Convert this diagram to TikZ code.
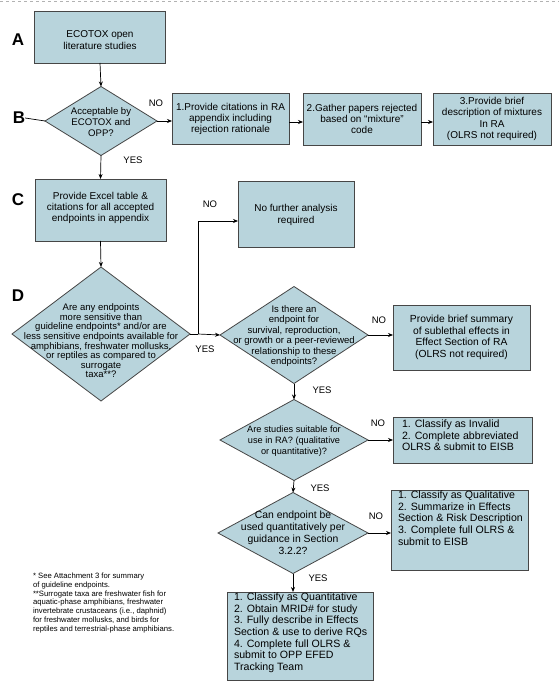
\documentclass[tikz,border=0pt]{standalone}
\usepackage{fontspec}
\setmainfont{Liberation Sans}
\usetikzlibrary{shapes.geometric,arrows.meta,calc}
\definecolor{boxfill}{RGB}{184,212,220}
\definecolor{boxline}{RGB}{70,70,70}
\tikzset{
  every node/.style={inner sep=0pt, outer sep=0pt},
  procbox/.style={draw=boxline, line width=0.8pt, fill=boxfill, rectangle},
  decide/.style={draw=boxline, line width=0.8pt, fill=boxfill, diamond},
  btext/.style={align=center, font=\fontsize{10}{11.3}\selectfont},
  ltext/.style={align=left, font=\fontsize{10.6}{11.6}\selectfont},
  dtext/.style={align=center, font=\fontsize{9.5}{9.6}\selectfont},
  bigletter/.style={font=\fontsize{17}{17}\selectfont\bfseries},
  yn/.style={font=\fontsize{9.5}{9.5}\selectfont},
  arr/.style={-{Stealth[length=5pt,width=4pt]}, line width=0.7pt},
  ln/.style={line width=0.7pt}
}
\begin{document}
\begin{tikzpicture}[x=1pt,y=-1pt]
\useasboundingbox (0,0) rectangle (559,684);
\fill[white] (0,0) rectangle (559,684);
\draw[gray!60, dashed, line width=0.8pt] (0,1) -- (559,1);

% letters
\node[bigletter] (LA) at (18,40) {A};
\node[bigletter] (LB) at (19,118) {B};
\node[bigletter] (LC) at (18,200) {C};
\node[bigletter] (LD) at (18,296) {D};

% A
\node[procbox, minimum width=131pt, minimum height=52pt] (A) at (100,37) {};
\node[btext] (At) at (100,40) {ECOTOX open\\literature studies};

% B diamond
\node[decide, minimum width=112pt, minimum height=69pt] (B) at (101,121) {};
\node[dtext, font=\fontsize{9.6}{10.8}\selectfont] (Bt) at (101,122) {Acceptable by\\ECOTOX and\\OPP?};

% boxes 1-3
\node[procbox, minimum width=117pt, minimum height=51pt] (b1) at (230.5,118.5) {};
\node[btext] (b1t) at (230.5,119) {1.Provide citations in RA\\appendix including\\rejection rationale};
\node[procbox, minimum width=118pt, minimum height=52pt] (b2) at (362,119) {};
\node[btext] (b2t) at (362,119) {2.Gather papers rejected\\based on ``mixture''\\code};
\node[procbox, minimum width=118pt, minimum height=52pt] (b3) at (492,119) {};
\node[btext] (b3t) at (492,119) {3.Provide brief\\description of mixtures\\In RA\\(OLRS not required)};

% C
\node[procbox, minimum width=131pt, minimum height=62pt] (C) at (100.5,210) {};
\node[btext] (Ct) at (100.5,208) {Provide Excel table \&\\citations for all accepted\\endpoints in appendix};

% D diamond
\node[decide, minimum width=178pt, minimum height=134pt] (D) at (101,334) {};
\node[dtext] (Dt) at (101,341) {Are any endpoints\\more sensitive than\\guideline endpoints* and/or are\\less sensitive endpoints available for\\amphibians, freshwater mollusks,\\or reptiles as compared to\\surrogate\\taxa**?};

% NFA
\node[procbox, minimum width=116pt, minimum height=66pt] (N) at (296,214) {};
\node[btext] (Nt) at (296,215) {No further analysis\\required};

% E diamond
\node[decide, minimum width=148pt, minimum height=97pt] (E) at (294,335) {};
\node[dtext, font=\fontsize{9.5}{10.4}\selectfont] (Et) at (294,336) {Is there an\\endpoint for\\survival, reproduction,\\or growth or a peer-reviewed\\relationship to these\\endpoints?};

% F
\node[procbox, minimum width=137pt, minimum height=65pt] (F) at (461.5,337.5) {};
\node[btext, font=\fontsize{10.3}{11.6}\selectfont] (Ft) at (461.5,337.5) {Provide brief summary\\of sublethal effects in\\Effect Section of RA\\(OLRS not required)};

% G diamond
\node[decide, minimum width=148pt, minimum height=81pt] (G) at (294,440) {};
\node[dtext, font=\fontsize{9.2}{10.8}\selectfont] (Gt) at (294,441) {Are studies suitable for\\use in RA? (qualitative\\or quantitative)?};

% H
\node[procbox, minimum width=139pt, minimum height=46pt] (H) at (462.5,440) {};
\node[ltext, anchor=north west] (Ht) at (402,420) {1. Classify as Invalid\\2. Complete abbreviated\\OLRS \& submit to EISB};

% I diamond
\node[decide, minimum width=150pt, minimum height=81pt] (I) at (293,533) {};
\node[dtext, font=\fontsize{10.4}{12}\selectfont] (It) at (293,533) {Can endpoint be\\used quantitatively per\\guidance in Section\\3.2.2?};

% J
\node[procbox, minimum width=137pt, minimum height=80pt] (J) at (459.5,530) {};
\node[ltext, anchor=north west] (Jt) at (398,491) {1. Classify as Qualitative\\2. Summarize in Effects\\Section \& Risk Description\\3. Complete full OLRS \&\\submit to EISB};

% K
\node[procbox, minimum width=146pt, minimum height=88pt] (K) at (300,636) {};
\node[ltext, anchor=north west] (Kt) at (234,593) {1. Classify as Quantitative\\2. Obtain MRID\# for study\\3. Fully describe in Effects\\Section \& use to derive RQs\\4. Complete full OLRS \&\\submit to OPP EFED\\Tracking Team};

% footnote
\node[align=left, anchor=north west, font=\fontsize{7.7}{8.8}\selectfont] (foot) at (33,573) {* See Attachment 3 for summary\\of guideline endpoints.\\**Surrogate taxa are freshwater fish for\\aquatic-phase amphibians, freshwater\\invertebrate crustaceans (i.e., daphnid)\\for freshwater mollusks, and birds for\\reptiles and terrestrial-phase amphibians.};

% connectors
\draw[ln] (LB.east) -- (B.west);
\draw[arr] (A.south) -- (B.north);
\draw[arr] (B.east) -- (B.east -| b1.west);
\draw[arr] (b1.east |- 0,122) -- (b2.west |- 0,122);
\draw[arr] (b2.east |- 0,122) -- (b3.west |- 0,122);
\draw[arr] (B.south) -- (C.north);
\draw[arr] (C.south) -- (D.north);
\coordinate (jD) at (198,334);
\draw[ln] (D.east) -- (jD);
\draw[arr] (jD) -- (E.west);
\draw[arr] (jD) |- ($(N.west)+(0,7)$);
\draw[arr] (E.east) -- (E.east -| F.west);
\draw[arr] (E.south) -- (G.north);
\draw[arr] (G.east) -- (G.east -| H.west);
\draw[arr] (G.south) -- (I.north);
\draw[arr] (I.east) -- (I.east -| J.west);
\draw[arr] (I.south) -- (I.south |- K.north);

% yes/no labels
\node[yn] (n1) at (156,103) {NO};
\node[yn] (y1) at (133,160) {YES};
\node[yn] (n2) at (210,204) {NO};
\node[yn] (y2) at (205,349) {YES};
\node[yn] (n3) at (379,320) {NO};
\node[yn] (y3) at (322,390) {YES};
\node[yn] (n4) at (378,423) {NO};
\node[yn] (y4) at (320,488) {YES};
\node[yn] (n5) at (376,516) {NO};
\node[yn] (y5) at (318,578) {YES};
\end{tikzpicture}
\end{document}
